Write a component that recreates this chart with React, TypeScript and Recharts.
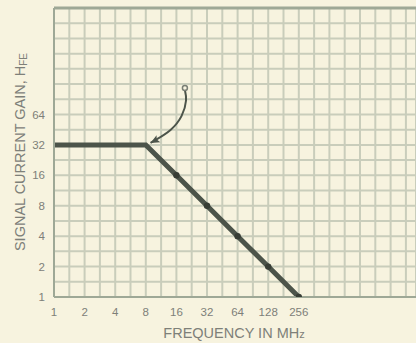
import React from "react";
import {
  LineChart,
  Line,
  XAxis,
  YAxis,
  CartesianGrid,
  ReferenceLine,
} from "recharts";

// breakpoint curve: flat at 32 up to 8 MHz, then -6dB/octave down to 1 at 256 MHz
const FREQ = [1, 2, 4, 8, 16, 32, 64, 128, 256];
const GAIN = [32, 32, 32, 32, 16, 8, 4, 2, 1];

// hand drawn arrow pointing at the corner
const ARROW_FREQ = [8.9, 10.3, 14, 18, 19.9, 19.4];
const ARROW_GAIN = [33.5, 36.5, 45, 62, 88, 112];

const X_LABELS = [1, 2, 4, 8, 16, 32, 64, 128, 256];
const Y_LABELS = [1, 2, 4, 8, 16, 32, 64];

const X_MAX = 3640;
const Y_MAX = Math.pow(2, 9.5);

// graph paper lines every half octave
const X_GRID = Array.from({ length: 24 }, (_, k) => Math.pow(2, k / 2));
const Y_GRID = Array.from({ length: 20 }, (_, k) => Math.pow(2, k / 2));

const mainData = FREQ.map((f, i) => ({ f, g: GAIN[i] }));
const arrowData = ARROW_FREQ.map((f, i) => ({ f, g: ARROW_GAIN[i] }));

const FONT = "'Liberation Sans', Arial, sans-serif";
const BG = "#f7f3df";
const GRID = "#c9cdbb";
const INK = "#4c544a";
const LABEL = "#7e8079";
const FRAME = "#9ea896";

const xFmt = (v: number) => (X_LABELS.some((t) => Math.abs(t - v) < 1e-6) ? String(Math.round(v)) : "");
const yFmt = (v: number) => (Y_LABELS.some((t) => Math.abs(t - v) < 1e-6) ? String(Math.round(v)) : "");

const renderYTitle = () => {
  const cx = 20;
  const cy = 152;
  return (
    <text
      x={cx}
      y={cy}
      transform={`rotate(-90 ${cx} ${cy})`}
      textAnchor="middle"
      dominantBaseline="central"
      fontFamily={FONT}
      fontSize={14.5}
      fill={LABEL}
    >
      SIGNAL CURRENT GAIN, H
      <tspan fontSize={10} dy={3}>FE</tspan>
    </text>
  );
};

const renderXTitle = () => (
  <text x={234} y={338} textAnchor="middle" fontFamily={FONT} fontSize={14.5} fill={LABEL}>
    FREQUENCY IN MH
    <tspan fontSize={11}>z</tspan>
  </text>
);

const renderDot = (props: any) => {
  const { cx, cy, payload } = props;
  if (payload.g >= 32) return <g key={`d-${payload.f}`} />;
  return <circle key={`d-${payload.f}`} cx={cx} cy={cy} r={3.2} fill="#373d35" />;
};

// arrowhead on the first point, small loop on the last one
const renderArrowDot = (props: any) => {
  const { cx, cy, index } = props;
  if (index === 0) {
    return (
      <path
        key="arrow-head"
        d={`M${cx},${cy} l9,-4 l-2,4 l2,4 Z`}
        transform={`rotate(-28 ${cx} ${cy})`}
        fill={INK}
      />
    );
  }
  if (index === ARROW_FREQ.length - 1) {
    return <circle key="arrow-tail" cx={cx} cy={cy - 2} r={2.5} fill="none" stroke="#7a7f76" strokeWidth={1.5} />;
  }
  return <g key={`a-${index}`} />;
};

export default function App() {
  return (
    <div
      style={{
        position: "fixed",
        left: 0,
        top: 0,
        width: 416,
        height: 343,
        background: BG,
        overflow: "hidden",
      }}
    >
      <LineChart width={416} height={343} margin={{ top: 8, right: 0, left: 0, bottom: 0 }}>
        <CartesianGrid stroke={GRID} strokeWidth={2} />
        <XAxis
          dataKey="f"
          type="number"
          scale="log"
          domain={[1, X_MAX]}
          allowDataOverflow
          ticks={X_GRID}
          tickFormatter={xFmt}
          tickLine={false}
          tickMargin={5}
          height={46}
          stroke={FRAME}
          strokeWidth={2}
          tick={{ fill: LABEL, fontSize: 11.5, fontFamily: FONT }}
          interval={0}
          label={{ content: renderXTitle }}
        />
        <YAxis
          dataKey="g"
          type="number"
          scale="log"
          domain={[1, Y_MAX]}
          allowDataOverflow
          ticks={Y_GRID}
          tickFormatter={yFmt}
          tickLine={false}
          tickMargin={3}
          width={54}
          stroke={FRAME}
          strokeWidth={2}
          tick={{ fill: LABEL, fontSize: 11.5, fontFamily: FONT }}
          interval={0}
          label={{ content: renderYTitle }}
        />
        <ReferenceLine y={Y_MAX} stroke={FRAME} strokeWidth={3} ifOverflow="visible" />
        <Line
          data={mainData}
          dataKey="g"
          type="linear"
          stroke={INK}
          strokeWidth={5}
          dot={renderDot}
          isAnimationActive={false}
        />
        <Line
          data={arrowData}
          dataKey="g"
          type="natural"
          stroke={INK}
          strokeWidth={2}
          dot={renderArrowDot}
          isAnimationActive={false}
        />
      </LineChart>
    </div>
  );
}
